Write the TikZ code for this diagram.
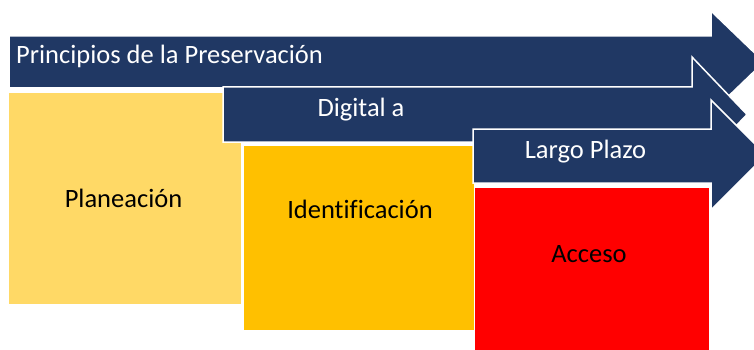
\documentclass[tikz,border=0pt]{standalone}
\usepackage{fontspec}
\setmainfont{Carlito}[Ligatures=NoCommon]
\usepackage{xcolor}
\usepackage{tikz}
\definecolor{navy}{HTML}{203864}
\definecolor{paleyellow}{HTML}{FFD966}
\definecolor{gold}{HTML}{FFC000}
\definecolor{brightred}{HTML}{FF0000}
\tikzset{
  band/.style={fill=navy, draw=white, line width=1.5pt, line join=miter},
  box/.style={draw=white, line width=0.8pt},
  lab/.style={text=white, font=\fontsize{26.5}{30}\selectfont, inner sep=0pt},
  boxlab/.style={text=black, font=\fontsize{26.5}{30}\selectfont, inner sep=0pt},
}

\begin{document}
\begin{tikzpicture}[x=1pt,y=-1pt]
\useasboundingbox (0,0) rectangle (754,350);
\clip (0,0) rectangle (754,350);
% boxes
\draw[box, fill=paleyellow] (8,92) rectangle (241,304);
\draw[box, fill=gold] (243,145) rectangle (474,330);
\draw[box, fill=brightred] (474,187) rectangle (709,353);

% arrows
\draw[band] (9,36) -- (711,36) -- (711,11) -- (764,62) -- (711,113) -- (711,88) -- (9,88) -- cycle;
\draw[band] (223,87) -- (692,87) -- (692,57) -- (747,114.5) -- (692,172) -- (692,142) -- (223,142) -- cycle;
\draw[band] (473,129) -- (711,129) -- (711,100) -- (766,155) -- (711,210) -- (711,183) -- (473,183) -- cycle;

% labels
\node[lab, anchor=base west] (principios) at (16,64) {Principios de la Preservación};
\node[lab, anchor=base] (digital) at (361,117) {Digital a};
\node[lab, anchor=base] (plazo) at (585.5,158) {Largo Plazo};
\node[boxlab, anchor=base] (planeacion) at (123.5,207) {Planeación};
\node[boxlab, anchor=base] (identificacion) at (360,218) {Identificación};
\node[boxlab, anchor=base] (acceso) at (589,262) {Acceso};
\end{tikzpicture}
\end{document}
